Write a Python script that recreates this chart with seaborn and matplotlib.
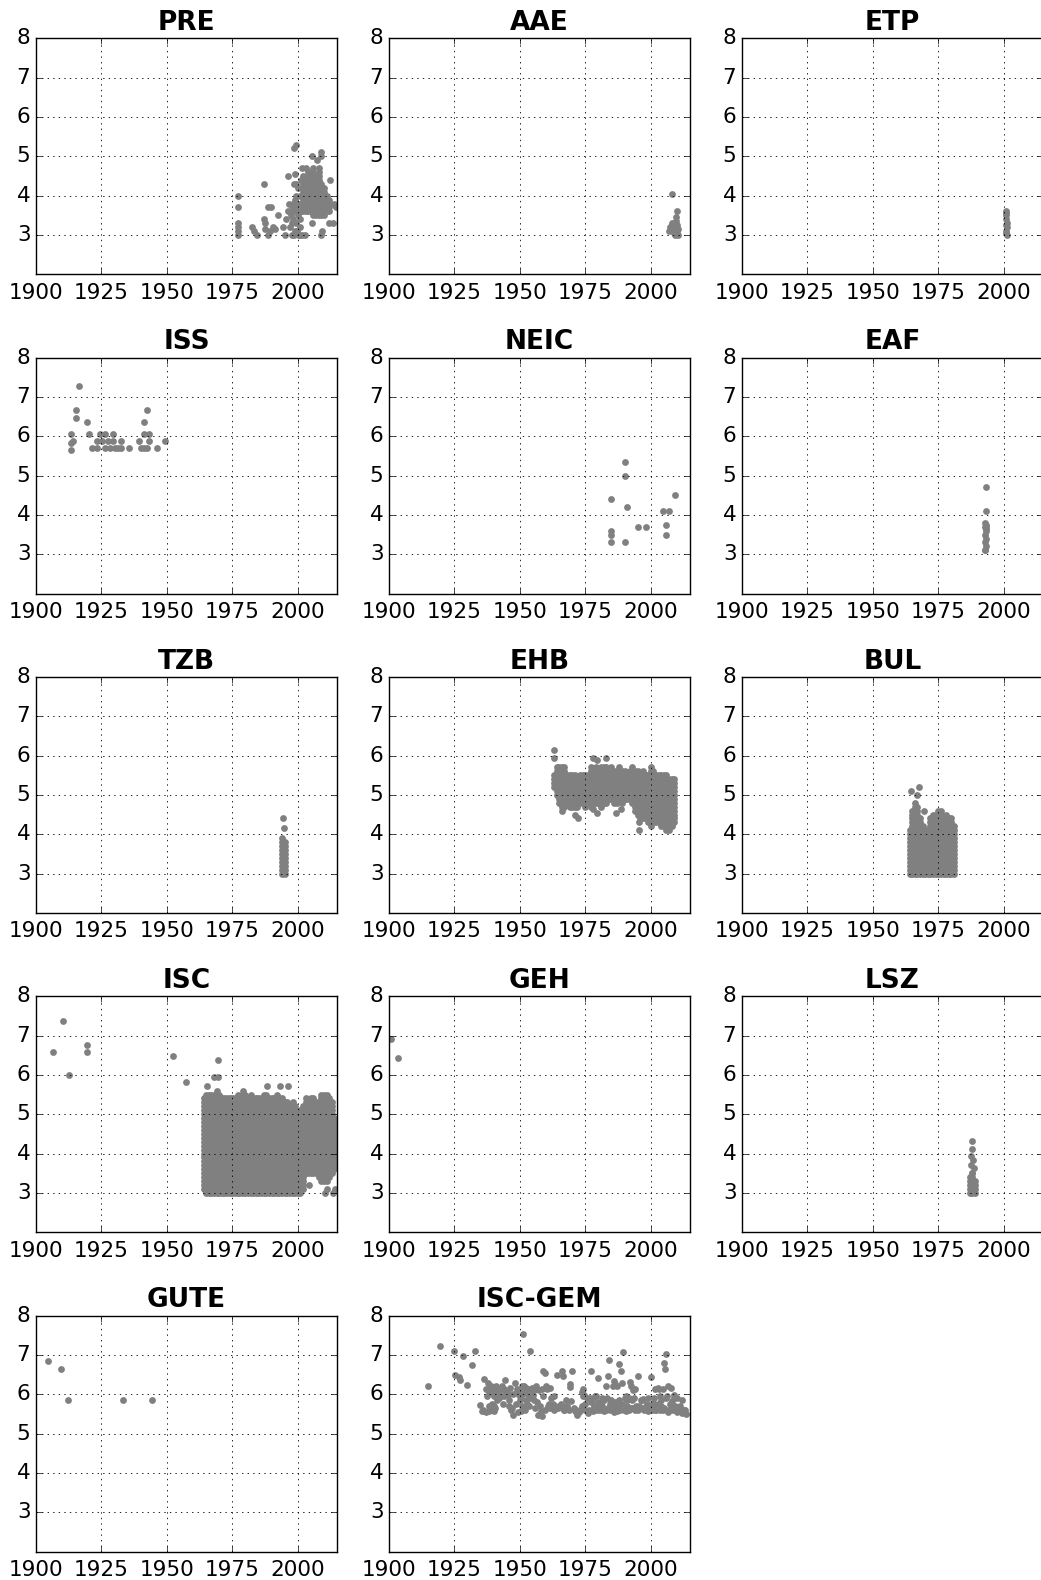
import numpy as np
import matplotlib
matplotlib.use("Agg")
import matplotlib.pyplot as plt
import seaborn as sns

# ---------------------------------------------------------------------------
# Earthquake magnitudes by reporting agency (year, magnitude)
# Scattered events are listed directly; dense blocks of small events are given
# as per-year magnitude envelopes (catalogues report to 0.1 magnitude units).
# ---------------------------------------------------------------------------

pre_year = [1977.3, 1977.3, 1977.3, 1977.3, 1977.3, 1977.3, 1982.5, 1983.3, 1984.4,
            1987.0, 1987.0, 1987.6, 1987.4, 1988.8, 1989.8, 1988.5, 1989.4, 1990.6,
            1991.2, 1992.6, 1994.2, 1995.2, 1995.6, 1996.2, 1996.8, 1996.4, 1997.5,
            1997.8, 1998.6, 1999.2, 1998.4, 1999.3, 1999.1, 2000.4, 2001.5, 2002.8,
            2001.8, 2003.2, 2005.5, 2005.6, 2007.3, 2008.8, 2008.8, 2008.8, 2009.4,
            2011.8, 2013.5, 2012.5, 2013.8, 2014.3, 2014.5,
            1997.2, 1997.6, 1998.0, 1998.2, 1998.5, 1998.8, 1999.0, 1999.4, 1999.6,
            1999.8, 2000.0, 2000.2, 2000.6, 2000.8, 2001.0, 2001.2, 1998.9, 1999.5,
            2000.3, 2001.4, 1997.9, 1998.3, 2000.9, 1999.9]
pre_mag = [4.0, 3.7, 3.3, 3.2, 3.1, 3.0, 3.2, 3.1, 3.0,
           4.3, 3.4, 3.3, 3.15, 3.7, 3.7, 3.0, 3.1, 3.2,
           3.15, 3.5, 3.2, 3.0, 3.4, 4.5, 3.8, 3.6, 3.5,
           3.3, 5.2, 5.3, 4.3, 4.0, 4.55, 3.0, 3.0, 3.0,
           4.7, 4.7, 5.0, 3.3, 4.9, 5.1, 5.0, 3.0, 3.1,
           3.3, 3.3, 4.4, 3.8, 3.75, 3.7,
           3.2, 3.6, 3.8, 3.4, 3.0, 3.6, 3.9, 3.3, 3.7,
           3.1, 3.5, 4.2, 3.8, 3.2, 4.0, 3.6, 3.1, 4.3,
           3.0, 4.4, 3.0, 3.7, 3.4, 3.8]
pre_band_year = [2002, 2003, 2004, 2005, 2006, 2007, 2008, 2009, 2010, 2011, 2012]
pre_band_lo = [3.6, 3.6, 3.6, 3.6, 3.5, 3.5, 3.5, 3.5, 3.5, 3.6, 3.6]
pre_band_hi = [4.5, 4.4, 4.6, 4.6, 4.7, 4.5, 4.7, 4.3, 4.2, 4.0, 3.9]

aae_year = [2008.0, 2009.9, 2009.8, 2009.6, 2009.4, 2007.2, 2007.6, 2008.2, 2008.6, 2009.0,
            2009.6, 2010.0, 2010.3, 2009.2, 2008.4, 2007.0, 2010.4, 2010.1, 2009.0, 2008.0]
aae_mag = [4.05, 3.62, 3.45, 3.35, 3.25, 3.2, 3.15, 3.25, 3.1, 3.2,
           3.1, 3.05, 3.0, 3.0, 3.15, 3.1, 3.15, 3.25, 3.05, 3.3]

etp_year = [2000.8, 2000.9, 2001.0, 2000.8, 2001.1, 2000.7, 2001.2, 2000.9, 2001.0, 2001.2]
etp_mag = [3.6, 3.55, 3.5, 3.4, 3.3, 3.25, 3.2, 3.1, 3.05, 3.0]

iss_year = [1913.4, 1913.4, 1913.4, 1914.3, 1915.4, 1915.4, 1916.4, 1919.4, 1920.4,
            1921.3, 1923.4, 1923.4, 1924.5, 1925.3, 1926.4, 1926.4, 1927.4, 1928.4,
            1929.3, 1929.3, 1930.3, 1931.3, 1932.4, 1932.4, 1935.4, 1939.2, 1940.3,
            1941.3, 1941.3, 1941.3, 1942.3, 1942.3, 1943.3, 1943.3, 1946.2, 1949.2]
iss_mag = [6.05, 5.83, 5.64, 5.87, 6.66, 6.47, 7.27, 6.37, 6.05,
           5.70, 5.70, 5.87, 6.05, 5.87, 5.70, 6.05, 5.87, 5.70,
           6.05, 5.87, 5.70, 5.70, 5.87, 5.70, 5.70, 5.87, 5.70,
           6.37, 6.05, 5.70, 6.66, 5.70, 6.05, 5.87, 5.70, 5.87]

neic_year = [1990.1, 1990.1, 1985.0, 1991.0, 1985.0, 1985.0, 1985.0, 1990.1,
             1995.1, 1998.0, 2004.8, 2006.9, 2006.0, 2006.0, 2009.1]
neic_mag = [5.35, 5.0, 4.4, 4.2, 3.6, 3.5, 3.3, 3.3,
            3.7, 3.7, 4.1, 4.1, 3.75, 3.5, 4.5]

eaf_year = [1993.3, 1993.1, 1993.0, 1993.4, 1993.2, 1992.9, 1993.3, 1993.1, 1993.0,
            1993.2, 1992.9, 1993.1, 1992.7, 1993.0]
eaf_mag = [4.7, 4.1, 3.8, 3.75, 3.7, 3.7, 3.65, 3.6, 3.5,
           3.4, 3.3, 3.2, 3.1, 3.1]

tzb_year = [1994.5, 1994.8]
tzb_mag = [4.42, 4.15]
tzb_band_year = [1994, 1995]
tzb_band_lo = [3.0, 3.0]
tzb_band_hi = [3.9, 3.8]

ehb_year = [1963.0, 1963.2, 1971.2, 1972.4, 1977.8, 1979.3, 1982.8, 1978.0, 1979.4,
            1986.7, 1988.6, 1995.4, 1995.7]
ehb_mag = [6.15, 5.93, 4.5, 4.4, 5.95, 5.88, 5.93, 4.65, 4.53,
           4.53, 4.65, 4.3, 4.1]
ehb_band_year = list(range(1963, 2010))
ehb_band_lo = [5.2, 5.0, 4.8, 4.6, 4.7, 4.8, 4.7, 4.7, 4.7, 4.7, 4.8, 4.8, 4.7, 4.8,
               4.7, 4.8, 4.8, 4.8, 4.7, 4.8, 4.8, 4.9, 4.9, 4.8, 4.8, 4.9, 4.8, 4.9,
               4.9, 4.9, 4.8, 4.6, 4.5, 4.4, 4.4, 4.4, 4.3, 4.2, 4.3, 4.3, 4.3, 4.2,
               4.2, 4.1, 4.1, 4.2, 4.3]
ehb_band_hi = [5.5, 5.7, 5.7, 5.7, 5.7, 5.5, 5.5, 5.5, 5.5, 5.4, 5.5, 5.5, 5.5, 5.5,
               5.7, 5.6, 5.7, 5.6, 5.7, 5.7, 5.7, 5.6, 5.7, 5.6, 5.6, 5.7, 5.6, 5.6,
               5.5, 5.6, 5.7, 5.6, 5.6, 5.5, 5.6, 5.5, 5.5, 5.7, 5.6, 5.5, 5.5, 5.5,
               5.5, 5.5, 5.4, 5.4, 5.4]

bul_year = [1964.6, 1966.9, 1967.5, 1969.4]
bul_mag = [5.1, 5.0, 5.2, 4.6]
bul_band_year = list(range(1964, 1982))
bul_band_lo = [3.0] * 18
bul_band_hi = [4.1, 4.6, 4.8, 4.7, 4.4, 4.2, 4.1, 4.1, 4.4, 4.5, 4.5, 4.6, 4.6, 4.4,
               4.5, 4.4, 4.4, 4.2]

isc_year = [1906.4, 1910.2, 1912.5, 1919.4, 1919.4, 1952.3, 1957.4, 1965.2, 1968.0,
            1969.4, 1969.4, 1988.3, 1993.1, 1996.2, 2004.2, 2010.3, 2011.2, 2013.5, 2014.3]
isc_mag = [6.58, 7.37, 6.0, 6.77, 6.58, 6.47, 5.82, 5.72, 5.95,
           5.95, 6.37, 5.72, 5.72, 5.72, 3.2, 3.0, 3.1, 3.0, 3.1]
isc_band_year = list(range(1964, 2015))
isc_band_lo = [3.1] + [3.0] * 37 + [3.1, 3.5, 3.5, 3.5, 3.5, 3.5, 3.4, 3.3, 3.3, 3.3,
                                    3.4, 3.5, 3.6]
isc_band_hi = [5.4, 5.5, 5.5, 5.5, 5.5, 5.6, 5.5, 5.4, 5.4, 5.4, 5.4, 5.4, 5.4, 5.5,
               5.4, 5.6, 5.5, 5.4, 5.5, 5.4, 5.4, 5.4, 5.4, 5.5, 5.5, 5.4, 5.4, 5.4,
               5.5, 5.4, 5.4, 5.3, 5.3, 5.2, 5.3, 5.2, 5.0, 5.1, 5.2, 5.4, 5.3, 5.4,
               5.4, 5.3, 5.3, 5.5, 5.5, 5.5, 5.4, 5.3, 4.9]

geh_year = [1900.6, 1903.4]
geh_mag = [6.92, 6.42]

lsz_year = [1988.0, 1988.0, 1987.6, 1988.1, 1988.8, 1988.0, 1987.4]
lsz_mag = [4.32, 4.12, 3.94, 3.83, 3.63, 3.51, 3.7]
lsz_band_year = [1987, 1988, 1989]
lsz_band_lo = [3.0, 3.0, 3.0]
lsz_band_hi = [3.4, 3.5, 3.3]

gute_year = [1904.4, 1909.4, 1912.4, 1933.1, 1944.2]
gute_mag = [6.85, 6.65, 5.86, 5.86, 5.86]

iscgem_year = [
    1915.0, 1919.6, 1925.0, 1925.3, 1926.8, 1927.3, 1928.4, 1929.8, 1931.9, 1932.9,
    1934.9, 1935.4, 1936.3, 1936.3, 1937.0, 1937.6, 1938.0, 1938.3, 1938.3, 1939.0,
    1939.5, 1940.0, 1940.0, 1940.0, 1941.0, 1942.0, 1943.0, 1944.0, 1944.5, 1945.3,
    1946.0, 1947.0, 1947.2, 1948.0, 1949.0, 1949.5, 1950.0, 1950.5, 1951.0, 1951.2,
    1951.5, 1952.0, 1952.5, 1953.0, 1953.5, 1954.0, 1954.5, 1955.0, 1955.5, 1956.0,
    1957.0, 1957.5, 1958.0, 1958.5, 1959.0, 1959.5, 1960.0, 1960.5, 1961.0, 1961.5,
    1962.0, 1963.0, 1964.0, 1965.0, 1966.0, 1966.5, 1967.0, 1968.0, 1969.0, 1969.0,
    1969.5, 1970.0, 1971.0, 1972.0, 1973.0, 1974.0, 1974.5, 1975.0, 1976.0, 1977.0,
    1977.5, 1978.0, 1978.5, 1979.0, 1980.0, 1980.0, 1981.0, 1982.0, 1983.0, 1983.5,
    1984.0, 1984.5, 1985.0, 1985.5, 1986.0, 1987.0, 1987.5, 1988.0, 1988.5, 1989.0,
    1989.5, 1990.0, 1990.5, 1991.0, 1992.0, 1992.5, 1993.0, 1993.5, 1994.0, 1995.0,
    1995.5, 1997.0, 1998.0, 1999.0, 2000.0, 2001.0, 2001.5, 2002.0, 2003.0, 2004.0,
    2004.5, 2005.0, 2005.5, 2006.0, 2006.5, 2007.0, 2008.0, 2009.0, 2010.0, 2011.0,
    2012.0, 2013.0,
    1936.0, 1937.2, 1938.8, 1939.4, 1940.6, 1941.3, 1942.2, 1943.4, 1944.1, 1945.8,
    1946.5, 1948.5, 1949.2, 1950.4, 1951.8, 1952.9, 1953.8, 1955.8, 1956.6, 1957.8,
    1958.3, 1959.7, 1960.8, 1962.5, 1963.5, 1964.6, 1965.7, 1966.8, 1967.6, 1968.7,
    1970.5, 1971.6, 1972.7, 1973.6, 1974.9, 1975.6, 1976.5, 1977.3, 1978.2, 1979.4,
    1979.8, 1980.6, 1981.5, 1982.3, 1982.8, 1983.7, 1984.3, 1985.2, 1985.8, 1986.4,
    1986.9, 1987.8, 1988.3, 1989.2, 1989.9, 1990.8, 1991.6, 1992.3, 1992.9, 1993.8,
    1994.4, 1995.2, 1996.1, 1996.8, 1997.6, 1998.5, 1999.3, 2000.4, 2000.9, 2001.8,
    2002.6, 2003.4, 2003.9, 2004.8, 2005.2, 2005.9, 2006.6, 2007.4, 2007.9, 2008.5,
    2009.4, 2009.9, 2010.6, 2011.4, 2011.9, 2012.6, 2013.3,
    1937.8, 1938.6, 1939.8, 1940.8, 1941.6, 1942.6, 1943.8, 1945.0, 1946.3, 1947.4,
    1948.9, 1950.1, 1950.8, 1952.2, 1953.3, 1954.8, 1955.4, 1957.2, 1958.8, 1961.4,
    1963.2, 1967.8, 1973.8, 1974.2, 1976.8, 1978.8, 1981.2, 1983.2, 1986.2, 1987.2,
    1990.4, 1991.8, 1993.2, 1996.4, 1998.8, 2001.2, 2002.8, 2003.6, 2006.2, 2007.6,
    2008.8, 2010.2]
iscgem_mag = [
    6.22, 7.22, 7.11, 6.50, 6.43, 6.37, 6.97, 6.24, 6.75, 7.10,
    5.72, 5.57, 6.39, 5.57, 6.12, 5.95, 6.29, 5.57, 5.70, 6.20,
    6.12, 5.57, 5.70, 5.95, 6.20, 6.12, 6.22, 6.12, 6.37, 5.97,
    5.86, 5.65, 5.48, 6.29, 6.12, 5.99, 5.86, 5.57, 5.71, 7.53,
    6.20, 6.03, 5.86, 6.12, 5.70, 7.09, 6.16, 5.99, 5.86, 6.20,
    5.48, 5.70, 5.57, 6.14, 6.58, 6.53, 6.20, 6.12, 5.74, 5.65,
    5.91, 5.61, 6.50, 5.70, 6.58, 6.46, 5.61, 5.70, 6.25, 6.19,
    5.82, 6.58, 5.57, 5.48, 5.61, 6.12, 5.99, 5.74, 5.53, 6.58,
    5.86, 5.57, 5.70, 5.95, 6.42, 5.65, 5.78, 5.57, 6.20, 6.46,
    6.88, 5.74, 5.86, 6.20, 6.33, 5.57, 5.70, 6.77, 6.58, 6.29,
    7.08, 5.91, 5.57, 5.70, 6.30, 6.20, 5.65, 5.91, 6.12, 6.46,
    5.70, 5.88, 5.70, 5.57, 6.43, 5.78, 6.14, 5.61, 6.14, 5.70,
    6.14, 6.80, 6.63, 7.01, 6.20, 5.61, 5.82, 5.99, 5.57, 5.70,
    5.53, 5.61,
    5.60, 5.55, 5.60, 5.75, 5.65, 5.85, 5.90, 5.75, 5.95, 5.70,
    5.60, 5.75, 5.55, 5.95, 5.60, 5.75, 5.90, 5.65, 5.80, 5.50,
    5.45, 5.60, 5.70, 5.75, 5.70, 5.65, 5.75, 5.60, 5.70, 5.60,
    5.65, 5.60, 5.55, 5.70, 5.60, 5.90, 5.60, 5.80, 5.65, 5.60,
    5.80, 5.60, 5.70, 5.85, 5.60, 5.65, 5.60, 5.70, 5.55, 5.80,
    5.65, 5.85, 5.60, 5.75, 5.60, 5.85, 5.60, 5.65, 5.85, 5.60,
    5.70, 5.60, 5.65, 5.85, 5.60, 5.75, 5.65, 5.60, 5.70, 5.60,
    5.75, 5.60, 5.85, 5.60, 5.65, 5.90, 5.55, 5.75, 5.65, 5.60,
    5.70, 5.55, 5.65, 5.60, 5.85, 5.60, 5.50,
    6.10, 6.05, 6.00, 6.15, 6.05, 5.95, 6.10, 6.05, 6.15, 6.00,
    6.05, 6.10, 6.20, 6.15, 5.95, 6.05, 6.10, 6.10, 5.95, 6.15,
    5.95, 5.85, 6.05, 5.95, 5.90, 5.95, 5.90, 5.90, 6.25, 6.20,
    5.95, 5.90, 6.10, 5.85, 5.90, 5.90, 6.15, 5.95, 5.95, 6.15,
    5.90, 5.90]

titles = ["PRE", "AAE", "ETP", "ISS", "NEIC", "EAF", "TZB", "EHB", "BUL",
          "ISC", "GEH", "LSZ", "GUTE", "ISC-GEM"]

x_ticks = [1900, 1925, 1950, 1975, 2000]
y_ticks = [3, 4, 5, 6, 7, 8]


def catalog_points(years, mags, band_year=(), band_lo=(), band_hi=()):
    """Combine individual events with per-year blocks reported at 0.1 steps."""
    x = list(years)
    y = list(mags)
    for yr, lo, hi in zip(band_year, band_lo, band_hi):
        n = int(round((hi - lo) / 0.1)) + 1
        for k in range(n):
            x.append(yr)
            y.append(round(lo + 0.1 * k, 1))
    return np.asarray(x, float), np.asarray(y, float)


catalogs = [
    catalog_points(pre_year, pre_mag, pre_band_year, pre_band_lo, pre_band_hi),
    catalog_points(aae_year, aae_mag),
    catalog_points(etp_year, etp_mag),
    catalog_points(iss_year, iss_mag),
    catalog_points(neic_year, neic_mag),
    catalog_points(eaf_year, eaf_mag),
    catalog_points(tzb_year, tzb_mag, tzb_band_year, tzb_band_lo, tzb_band_hi),
    catalog_points(ehb_year, ehb_mag, ehb_band_year, ehb_band_lo, ehb_band_hi),
    catalog_points(bul_year, bul_mag, bul_band_year, bul_band_lo, bul_band_hi),
    catalog_points(isc_year, isc_mag, isc_band_year, isc_band_lo, isc_band_hi),
    catalog_points(geh_year, geh_mag),
    catalog_points(lsz_year, lsz_mag, lsz_band_year, lsz_band_lo, lsz_band_hi),
    catalog_points(gute_year, gute_mag),
    catalog_points(iscgem_year, iscgem_mag),
]

# ---------------------------------------------------------------------------
# Figure
# ---------------------------------------------------------------------------
plt.style.use("classic")
plt.rcParams["font.family"] = ["DejaVu Sans"]
plt.rcParams["figure.facecolor"] = "white"
plt.rcParams["savefig.facecolor"] = "white"
plt.rcParams["axes.formatter.useoffset"] = False

W, H = 1041, 1580
fig = plt.figure(figsize=(W / 100, H / 100), dpi=100)

col_left = [36, 389, 742]
row_top = [38.3, 357.6, 676.9, 996.2, 1315.5]
ax_w, ax_h = 301, 236

for i, (name, (xs, ys)) in enumerate(zip(titles, catalogs)):
    r, c = divmod(i, 3)
    rect = [col_left[c] / W, 1 - (row_top[r] + ax_h) / H, ax_w / W, ax_h / H]
    ax = fig.add_axes(rect)
    sns.scatterplot(x=xs, y=ys, ax=ax, color="grey", s=24, linewidth=0,
                    legend=False)
    ax.set_xlim(1900, 2015)
    ax.set_ylim(2, 8)
    ax.set_xticks(x_ticks)
    ax.set_yticks(y_ticks)
    ax.ticklabel_format(axis="x", useOffset=False, style="plain")
    ax.tick_params(labelsize=15.5)
    ax.tick_params(axis="x", pad=6)
    ax.grid(True, color="k", linestyle=":", linewidth=0.6)
    ax.set_xlabel("")
    ax.set_ylabel("")
    ax.set_title(name, fontsize=19, fontweight="bold", pad=6)

fig.savefig("out.png", dpi=100)
